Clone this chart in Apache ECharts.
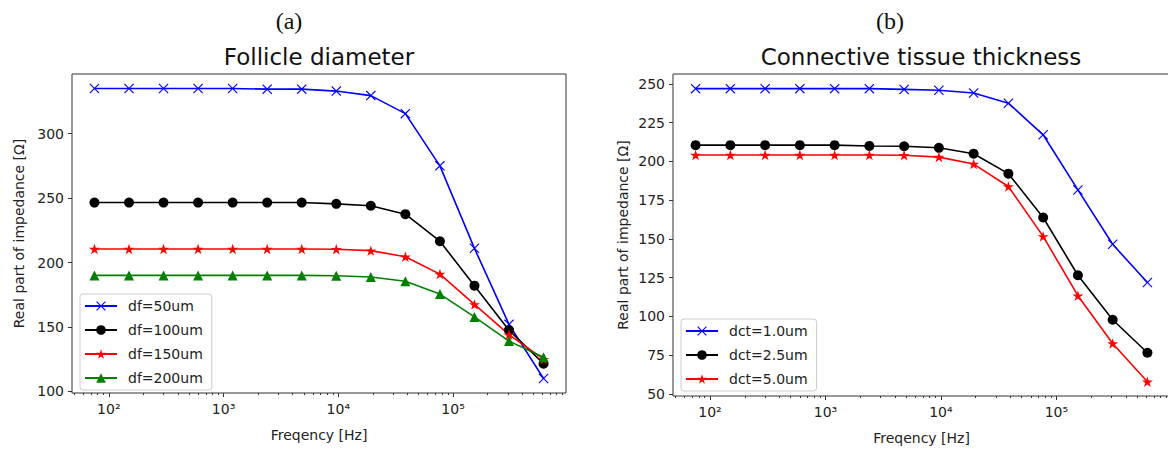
<!DOCTYPE html>
<html>
<head>
<meta charset="utf-8">
<script src="https://cdn.jsdelivr.net/npm/echarts@6/dist/echarts.min.js"></script>
<style>
  html, body { margin: 0; background: #fff; }
  #chart { width: 1168px; height: 450px; }
</style>
</head>
<body>
<div id="chart"></div>
<script>
// frequencies (Hz), doubling steps
const freqs = [75, 150, 300, 600, 1200, 2400, 4800, 9600, 19200, 38400, 76800, 153600, 307200, 614400];

// (a) follicle diameter
const df50 = [335, 335, 335, 335, 335, 334.5, 334.5, 333, 329.5, 315.5, 275, 211, 152, 110];
const df100 = [246.5, 246.5, 246.5, 246.5, 246.5, 246.5, 246.5, 245.5, 244, 237.5, 216.5, 182, 147.5, 121.5];
const df150 = [210.5, 210.5, 210.5, 210.5, 210.5, 210.5, 210.5, 210.3, 209.2, 204.5, 191, 167.5, 144, 125];
const df200 = [190, 190, 190, 190, 190, 190, 190, 189.7, 188.7, 185.5, 175.5, 157.8, 139, 126.5];

// (b) connective tissue thickness
const dct10 = [247, 247, 247, 247, 247, 247, 246.5, 246, 244.2, 237.6, 217.2, 181.6, 146.5, 121.8];
const dct25 = [210.5, 210.5, 210.5, 210.5, 210.5, 210, 209.8, 208.8, 205, 192.1, 163.8, 126.5, 97.8, 76.5];
const dct50 = [204.2, 204.2, 204.2, 204.2, 204.2, 204.2, 204, 202.8, 198.3, 183.8, 151.6, 113.3, 82.5, 57.8];

// tick labels
const xDecades = [2, 3, 4, 5];
const yTicksA = [100, 150, 200, 250, 300];
const yTicksB = [50, 75, 100, 125, 150, 175, 200, 225, 250];

// log axis done on log10 values
const xMin = 1.6794, xMax = 5.9841;
const minorX = [];
for (let n = 1; n <= 5; n++) {
  for (let k = 2; k <= 9; k++) {
    const v = Math.log10(k * Math.pow(10, n));
    if (v > xMin && v < xMax) minorX.push(v);
  }
}
const sup = { 2: '\u00b2', 3: '\u00b3', 4: '\u2074', 5: '\u2075' };

const FONT = 'DejaVu Sans';
const TXT = '#222';

const X_PATH = 'path://M0,0.8L0.8,0L5,4.2L9.2,0L10,0.8L5.8,5L10,9.2L9.2,10L5,5.8L0.8,10L0,9.2L4.2,5Z';
const STAR_PATH = 'path://M5,0L6.12,3.45L9.76,3.45L6.82,5.59L7.94,9.05L5,6.91L2.06,9.05L3.18,5.59L0.24,3.45L3.88,3.45Z';

function pairs(vals) {
  return freqs.map((f, i) => [Math.log10(f), vals[i]]);
}

function line(name, vals, color, symbol, size, idx) {
  return {
    type: 'line',
    name: name,
    data: pairs(vals),
    xAxisIndex: idx * 2,
    yAxisIndex: idx,
    symbol: symbol,
    symbolSize: size,
    symbolKeepAspect: true,
    showAllSymbol: true,
    lineStyle: { color: color, width: 1.6 },
    itemStyle: { color: color },
    emphasis: { disabled: true }
  };
}

function xAxes(gridIndex) {
  return [
    {
      type: 'value', gridIndex: gridIndex, position: 'bottom', min: xMin, max: xMax,
      axisLine: { show: false },
      splitLine: { show: false },
      axisTick: { customValues: xDecades, length: 4, lineStyle: { color: '#333' } },
      axisLabel: {
        customValues: xDecades, margin: 9, color: TXT, fontFamily: FONT, fontSize: 14,
        formatter: v => '10' + sup[Math.round(v)]
      },
      name: 'Freqency [Hz]', nameLocation: 'middle', nameGap: 35, nameMoveOverlap: false,
      nameTextStyle: { color: TXT, fontFamily: FONT, fontSize: 14 }
    },
    {
      // minor ticks
      type: 'value', gridIndex: gridIndex, position: 'bottom', offset: 0, min: xMin, max: xMax,
      axisLine: { show: false },
      splitLine: { show: false },
      axisLabel: { show: false },
      axisTick: { customValues: minorX, length: 2, lineStyle: { color: '#333' } }
    }
  ];
}

function yAxis(gridIndex, min, max, ticks, gap) {
  return {
    type: 'value', gridIndex: gridIndex, min: min, max: max,
    axisLine: { show: false },
    splitLine: { show: false },
    axisTick: { customValues: ticks, length: 4, lineStyle: { color: '#333' } },
    axisLabel: { customValues: ticks, margin: 8, color: TXT, fontFamily: FONT, fontSize: 14 },
    name: 'Real part of impedance [\u03a9]', nameLocation: 'middle', nameGap: gap, nameMoveOverlap: false,
    nameTextStyle: { color: TXT, fontFamily: FONT, fontSize: 14 }
  };
}

function legend(left, top, names) {
  return {
    orient: 'vertical', left: left, top: top, data: names,
    itemWidth: 32, itemHeight: 12, itemGap: 10,
    padding: [5, 9, 5, 4],
    borderColor: '#cccccc', borderWidth: 1, borderRadius: 3,
    backgroundColor: 'rgba(255,255,255,0.8)',
    textStyle: { color: TXT, fontFamily: FONT, fontSize: 14, padding: [0, 0, 0, 6] }
  };
}

function label(text, x, y, font) {
  return {
    type: 'text', x: x, y: y,
    style: { text: text, font: font, fill: '#111', textAlign: 'center', textVerticalAlign: 'middle' }
  };
}

const chart = echarts.init(document.getElementById('chart'), null, { renderer: 'svg' });
chart.setOption({
  animation: false,
  backgroundColor: '#fff',
  textStyle: { fontFamily: FONT },
  grid: [
    { left: 72, top: 74, width: 494, height: 319, show: true, borderColor: '#333', borderWidth: 1, outerBoundsMode: 'none' },
    { left: 673, top: 74, width: 497, height: 322, show: true, borderColor: '#333', borderWidth: 1, outerBoundsMode: 'none' }
  ],
  xAxis: xAxes(0).concat(xAxes(1)),
  yAxis: [
    yAxis(0, 98.75, 346.25, yTicksA, 46),
    yAxis(1, 48.55, 256.45, yTicksB, 43)
  ],
  legend: [
    legend(80, 294, ['df=50um', 'df=100um', 'df=150um', 'df=200um']),
    legend(681, 319, ['dct=1.0um', 'dct=2.5um', 'dct=5.0um'])
  ],
  graphic: [
    label('(a)', 289, 21, '24px "Liberation Serif"'),
    label('(b)', 890, 21, '24px "Liberation Serif"'),
    label('Follicle diameter', 319, 57, '23px "DejaVu Sans"'),
    label('Connective tissue thickness', 921, 57, '23px "DejaVu Sans"')
  ],
  series: [
    line('df=50um', df50, '#0000ff', X_PATH, 10, 0),
    line('df=100um', df100, '#000000', 'circle', 10, 0),
    line('df=150um', df150, '#ff0000', STAR_PATH, 11, 0),
    line('df=200um', df200, '#008000', 'triangle', 10, 0),
    line('dct=1.0um', dct10, '#0000ff', X_PATH, 10, 1),
    line('dct=2.5um', dct25, '#000000', 'circle', 10, 1),
    line('dct=5.0um', dct50, '#ff0000', STAR_PATH, 11, 1)
  ]
});
</script>
</body>
</html>
